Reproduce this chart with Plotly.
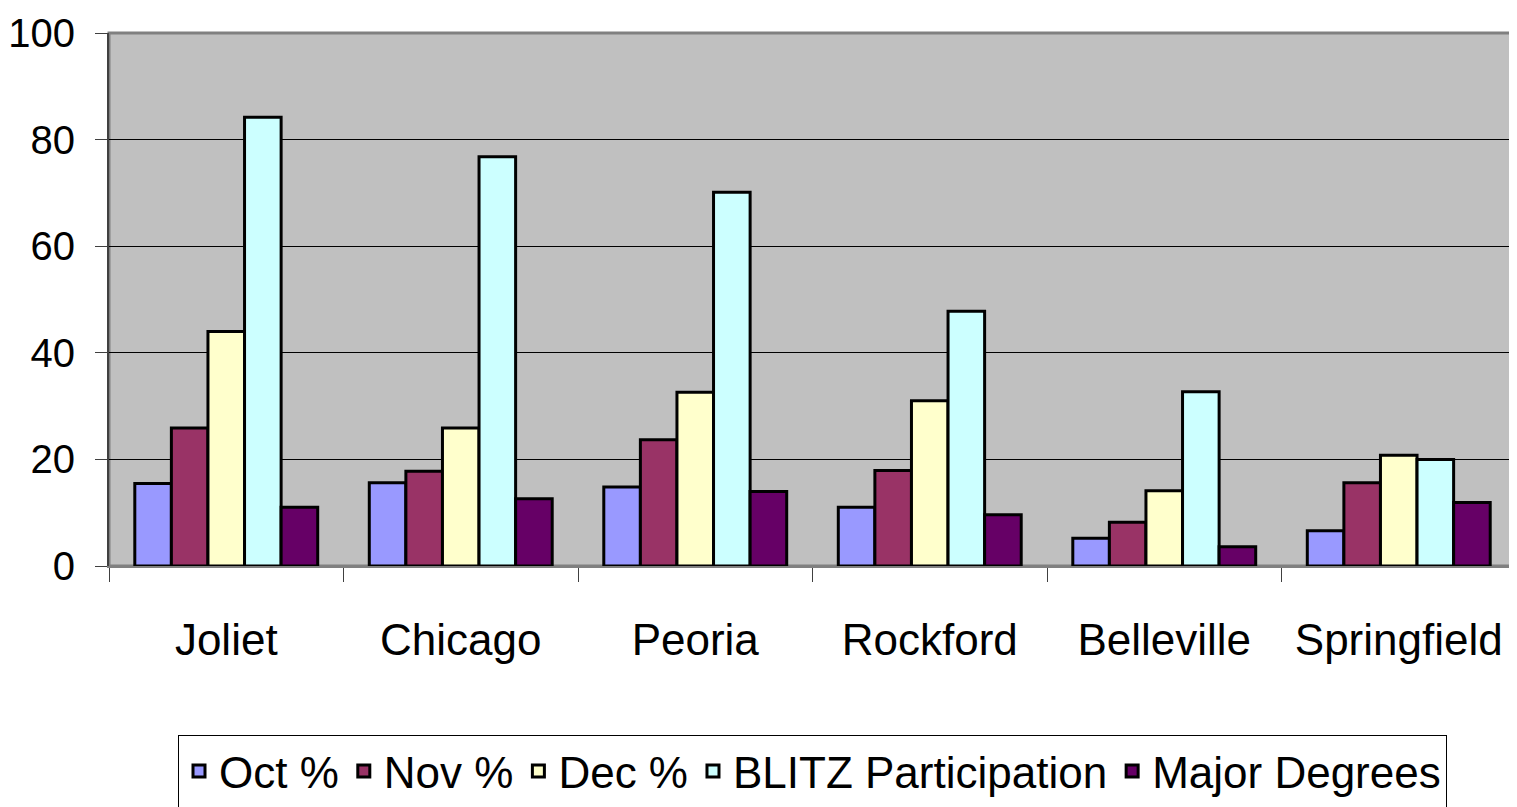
import plotly.graph_objects as go

cities = ["Joliet", "Chicago", "Peoria", "Rockford", "Belleville", "Springfield"]
oct_pct = [15.5, 15.6, 14.8, 11.0, 5.2, 6.6]
nov_pct = [25.9, 17.8, 23.7, 17.9, 8.2, 15.6]
dec_pct = [44.0, 25.9, 32.6, 31.0, 14.1, 20.8]
blitz = [84.2, 76.8, 70.1, 47.8, 32.7, 20.0]
major = [11.0, 12.6, 14.0, 9.6, 3.6, 11.9]

series_names = ["Oct %", "Nov %", "Dec %", "BLITZ Participation", "Major Degrees"]
series_values = [oct_pct, nov_pct, dec_pct, blitz, major]
colors = ["#9999FF", "#993366", "#FFFFCC", "#CCFFFF", "#660066"]

FONT = "Liberation Sans Narrow, Arial Narrow, Liberation Sans, Arial, sans-serif"

fig = go.Figure()
for name, vals, col in zip(series_names, series_values, colors):
    fig.add_trace(go.Bar(
        x=cities, y=vals, name=name,
        marker=dict(color=col, line=dict(color="black", width=3)),
    ))

# page body has an 8px default margin, so the figure is offset by 8px
fig.update_layout(
    width=1509, height=799,
    margin=dict(l=101, r=1, t=25, b=241, autoexpand=False),
    paper_bgcolor="white",
    plot_bgcolor="#C0C0C0",
    barmode="group",
    bargap=0.22,
    bargroupgap=0,
    font=dict(family=FONT, size=44, color="black"),
    showlegend=True,
    legend=dict(
        orientation="h",
        x=0.5, xanchor="center",
        y=-0.317, yanchor="top",
        bordercolor="black", borderwidth=1,
        bgcolor="white",
        font=dict(family=FONT, size=44, color="black"),
        itemwidth=30,
        tracegroupgap=0,
    ),
    shapes=[dict(type="rect", xref="paper", yref="paper", x0=0, x1=1, y0=0, y1=1,
                 line=dict(color="#808080", width=3), layer="below")],
)

fig.update_yaxes(
    range=[0, 100], dtick=20,
    showgrid=True, gridcolor="black", gridwidth=1,
    showline=True, linecolor="#404040", linewidth=2,
    ticks="outside", ticklen=12, tickcolor="#404040", tickwidth=1,
    ticklabelstandoff=12,
    tickfont=dict(family=FONT, size=40, color="black"),
    zeroline=False,
    automargin=False,
)
fig.update_xaxes(
    type="category",
    showline=True, linecolor="#808080", linewidth=2,
    ticks="outside", ticklen=14, tickcolor="#404040", tickwidth=1,
    tickson="boundaries",
    tickangle=0,
    ticklabelstandoff=34,
    tickfont=dict(family=FONT, size=44, color="black"),
    showgrid=False,
    automargin=False,
)

fig.write_html("out.html")
